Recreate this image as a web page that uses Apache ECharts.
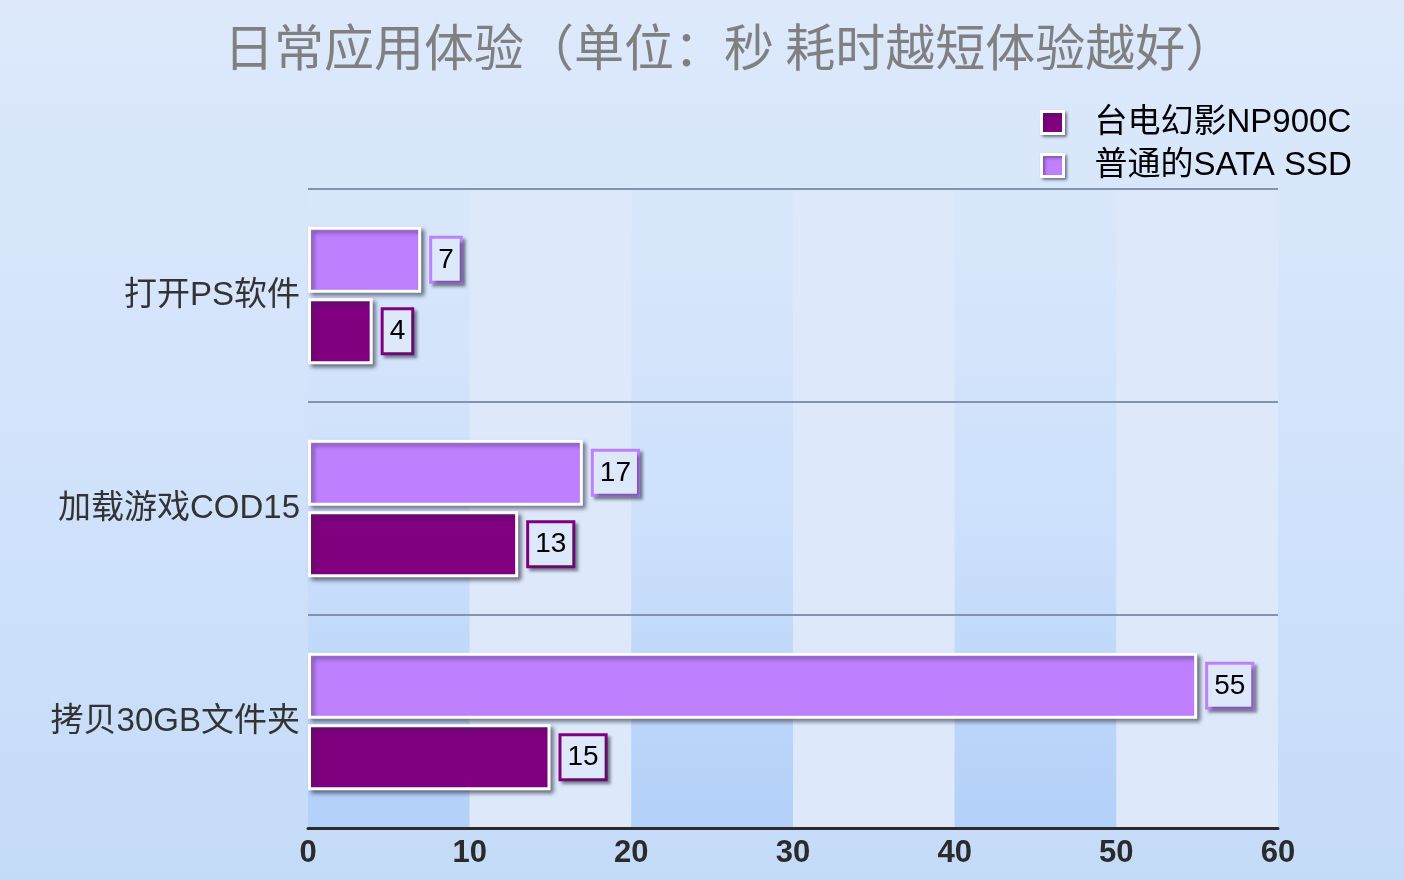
<!DOCTYPE html>
<html>
<head>
<meta charset="utf-8">
<script src="https://cdn.jsdelivr.net/npm/echarts@6/dist/echarts.min.js"></script>
<style>
html,body{margin:0;padding:0;}
#main{width:1404px;height:880px;background:linear-gradient(to bottom,#dde9fb 0%,#d2e3fb 50%,#c4dbf8 100%);}
</style>
</head>
<body>
<div id="main"></div>
<script>
const categories = ['打开PS软件', '加载游戏COD15', '拷贝30GB文件夹'];
const seriesNames = ['台电幻影NP900C', '普通的SATA SSD'];
const npValues = [4, 13, 15];
const sataValues = [7, 17, 55];
const xTicks = [0, 10, 20, 30, 40, 50, 60];
const titleText = '日常应用体验（单位：秒 耗时越短体验越好）';
const colors = { np: '#800080', sata: '#bf80ff' };

const FONT = '"Liberation Sans", "Noto Sans CJK SC", sans-serif';
const chart = echarts.init(document.getElementById('main'));

function barSeries(name, data, color) {
  return {
    name: name,
    type: 'bar',
    data: data,
    barWidth: 66,
    barGap: '8%',
    itemStyle: {
      color: color,
      borderColor: '#ffffff',
      borderWidth: 3,
      shadowColor: 'rgba(40,40,60,0.55)',
      shadowBlur: 4,
      shadowOffsetX: 3,
      shadowOffsetY: 3
    },
    label: {
      show: true,
      position: 'right',
      distance: 11,
      color: '#000',
      fontFamily: FONT,
      fontSize: 28,
      backgroundColor: '#dde9fb',
      borderColor: color,
      borderWidth: 3,
      padding: [8, 6, 6, 6],
      shadowColor: 'rgba(40,40,60,0.5)',
      shadowBlur: 3,
      shadowOffsetX: 3,
      shadowOffsetY: 3
    },
    emphasis: { disabled: true }
  };
}

chart.setOption({
  backgroundColor: 'transparent',
  animation: false,
  title: {
    text: titleText,
    left: 224,
    top: 22,
    padding: 0,
    textStyle: {
      fontFamily: '"Noto Sans CJK SC", sans-serif',
      fontSize: 50,
      fontWeight: 'normal',
      color: '#808080'
    }
  },
  legend: {
    data: seriesNames,
    orient: 'vertical',
    left: 1040,
    top: 106,
    padding: 0,
    itemWidth: 22,
    itemHeight: 22,
    itemGap: 10,
    icon: 'rect',
    itemStyle: {
      borderColor: '#ffffff',
      borderWidth: 3,
      shadowColor: 'rgba(40,40,60,0.5)',
      shadowBlur: 3,
      shadowOffsetX: 2,
      shadowOffsetY: 2
    },
    textStyle: {
      fontFamily: FONT,
      fontSize: 33,
      lineHeight: 33,
      color: '#000',
      padding: [0, 0, 0, 26]
    }
  },
  grid: { left: 308, right: 126, top: 189, bottom: 52, containLabel: false },
  xAxis: [{
    type: 'value',
    min: 0,
    max: 60,
    interval: 10,
    z: 0,
    axisLine: { show: false },
    axisTick: { show: false },
    splitLine: { show: false },
    splitArea: {
      show: true,
      areaStyle: {
        color: [
          { type: 'linear', x: 0, y: 0, x2: 0, y2: 1, colorStops: [
            { offset: 0, color: '#d9e7fb' }, { offset: 0.5, color: '#cde1fb' }, { offset: 1, color: '#b2d0f9' }] },
          '#dde9fb'
        ]
      }
    },
    axisLabel: {
      margin: 10,
      fontFamily: FONT,
      fontSize: 31,
      fontWeight: 'bold',
      color: '#2b2b2b',
      formatter: function (v) { return xTicks.indexOf(v) >= 0 ? String(v) : ''; }
    }
  }, {
    type: 'value',
    position: 'bottom',
    min: 0,
    max: 60,
    interval: 10,
    z: 5,
    axisLine: { show: true, onZero: false, lineStyle: { color: '#2b2b2b', width: 3 } },
    axisTick: { show: false },
    splitLine: { show: false },
    splitArea: { show: false },
    axisLabel: { show: false }
  }],
  yAxis: {
    type: 'category',
    data: categories,
    inverse: true,
    z: 1,
    axisLine: { show: false },
    axisTick: { show: false },
    splitLine: { show: true, lineStyle: { color: '#8393ad', width: 2 } },
    axisLabel: {
      margin: 8,
      fontFamily: FONT,
      fontSize: 33,
      color: '#333'
    }
  },
  series: [
    barSeries(seriesNames[1], sataValues, colors.sata),
    barSeries(seriesNames[0], npValues, colors.np)
  ]
});
</script>
</body>
</html>
